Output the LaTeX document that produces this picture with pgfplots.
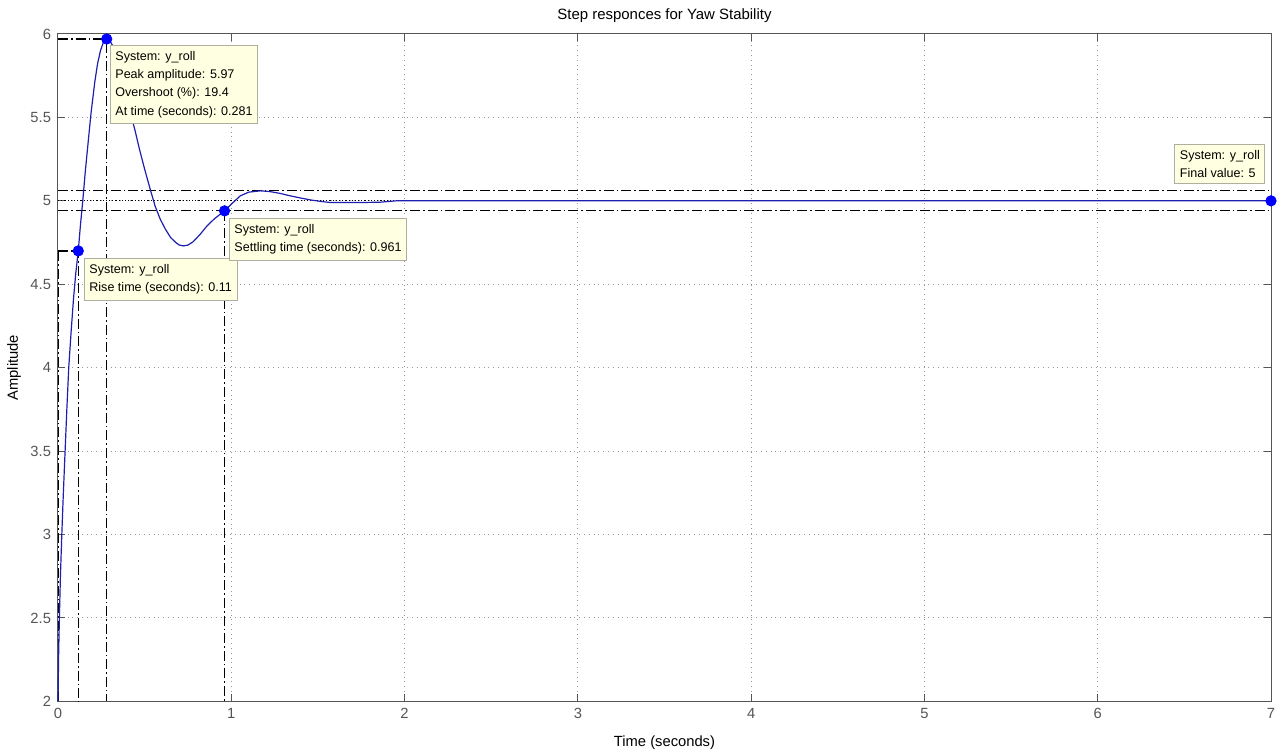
\documentclass[border=0pt]{standalone}
\usepackage{fontspec}
\setmainfont{Liberation Sans}
\usepackage{pgfplots}
\pgfplotsset{compat=1.18}

\definecolor{tipfill}{RGB}{255,255,225}
\definecolor{tipdraw}{RGB}{175,175,160}
\definecolor{axgray}{RGB}{85,85,85}
\definecolor{gridgray}{RGB}{150,150,150}
\definecolor{curve}{RGB}{30,30,175}

\tikzset{
  dd/.style={black, line width=0.6bp, dash pattern=on 5bp off 1.5bp on 0.8bp off 1.5bp},
  tip/.style={draw=tipdraw, fill=tipfill, line width=0.4bp, anchor=north west,
    font=\fontsize{6.3}{9.2}\selectfont, align=left, inner xsep=2.5bp, inner ysep=3bp}
}

\begin{document}
\begin{tikzpicture}
\begin{axis}[
  scale only axis, width=606.5bp, height=333.7bp,
  xmin=0, xmax=7, ymin=2, ymax=6,
  xtick={0,1,...,7}, ytick={2,2.5,...,6},
  tick pos=both, tick align=inside, major tick length=3.5bp,
  axis line style={axgray, line width=0.5bp},
  every tick/.style={axgray, line width=0.5bp},
  grid=major,
  major grid style={gridgray, dotted, line width=0.5bp},
  ticklabel style={font=\fontsize{7.4}{8}\selectfont, text=axgray},
  /pgf/number format/assume math mode=true,
  title={Step responces for Yaw Stability},
  xlabel={Time (seconds)}, ylabel={Amplitude},
  every axis title/.style={at={(axis description cs:0.5,1)}, anchor=center, yshift=9bp,
    font=\fontsize{7.5}{8}\selectfont},
  every axis x label/.style={at={(axis description cs:0.5,0)}, anchor=center, yshift=-20.5bp,
    font=\fontsize{7.4}{8}\selectfont},
  every axis y label/.style={at={(axis description cs:0,0.5)}, anchor=center, rotate=90, yshift=22bp,
    font=\fontsize{7.4}{8}\selectfont},
  clip=false,
]
% characteristic lines
\addplot[black, densely dotted, line width=0.6bp] coordinates {(0,5) (7,5)};
\addplot[dd] coordinates {(0,5.06) (7,5.06)};
\addplot[dd] coordinates {(0,4.94) (7,4.94)};
\addplot[dd] coordinates {(0.004,2) (0.004,4.70)};
\addplot[dd] coordinates {(0,4.70) (0.117,4.70) (0.117,2)};
\addplot[dd] coordinates {(0,5.97) (0.281,5.97) (0.281,2)};
\addplot[dd] coordinates {(0.961,4.94) (0.961,2)};

% step response
\addplot[curve, line width=0.6bp] coordinates {
(0,2.0) (0.004,2.3) (0.008,2.5) (0.014,2.75) (0.022,3.0) (0.031,3.25) (0.041,3.5)
(0.051,3.75) (0.062,4.0) (0.076,4.22) (0.090,4.42) (0.103,4.57) (0.117,4.70)
(0.13,4.86) (0.143,5.0) (0.157,5.17) (0.172,5.33) (0.19,5.52) (0.212,5.71)
(0.228,5.82) (0.245,5.90) (0.262,5.95) (0.281,5.97) (0.30,5.96) (0.32,5.92)
(0.34,5.86) (0.36,5.78) (0.38,5.70) (0.40,5.61) (0.42,5.52) (0.445,5.42)
(0.47,5.31) (0.50,5.19) (0.532,5.07) (0.56,4.97) (0.59,4.89) (0.62,4.83)
(0.65,4.78) (0.68,4.75) (0.70,4.735) (0.724,4.73) (0.75,4.735) (0.78,4.755)
(0.821,4.80) (0.86,4.85) (0.90,4.89) (0.93,4.915) (0.961,4.94) (1.00,4.98)
(1.052,5.03) (1.10,5.052) (1.168,5.06) (1.22,5.056) (1.28,5.045) (1.34,5.03)
(1.40,5.017) (1.46,5.005) (1.52,4.996) (1.572,4.99) (1.65,4.99) (1.75,4.99)
(1.86,4.992) (1.95,5.0) (2.1,5.0) (7,5.0)};

% characteristic points
\addplot[only marks, mark=*, mark size=2.6bp, draw=blue, fill=blue] coordinates {
(0.117,4.70) (0.281,5.97) (0.961,4.94) (7,5)};

% data tips
\node[tip] at (axis cs:0.300,5.937) {System: y\_roll\\Peak amplitude: 5.97\\Overshoot (\%): 19.4\\At time (seconds): 0.281};
\node[tip] at (axis cs:0.150,4.660) {System: y\_roll\\Rise time (seconds): 0.11};
\node[tip] at (axis cs:0.987,4.900) {System: y\_roll\\Settling time (seconds): 0.961};
\node[tip] at (axis cs:6.443,5.343) {System: y\_roll\\Final value: 5};

\coordinate (bl) at (rel axis cs:0,0);
\coordinate (tr) at (rel axis cs:1,1);
\end{axis}
\pgfresetboundingbox
\path ([shift={(-29bp,-25.7bp)}]bl) rectangle ([shift={(4.5bp,17bp)}]tr);
\end{tikzpicture}
\end{document}
